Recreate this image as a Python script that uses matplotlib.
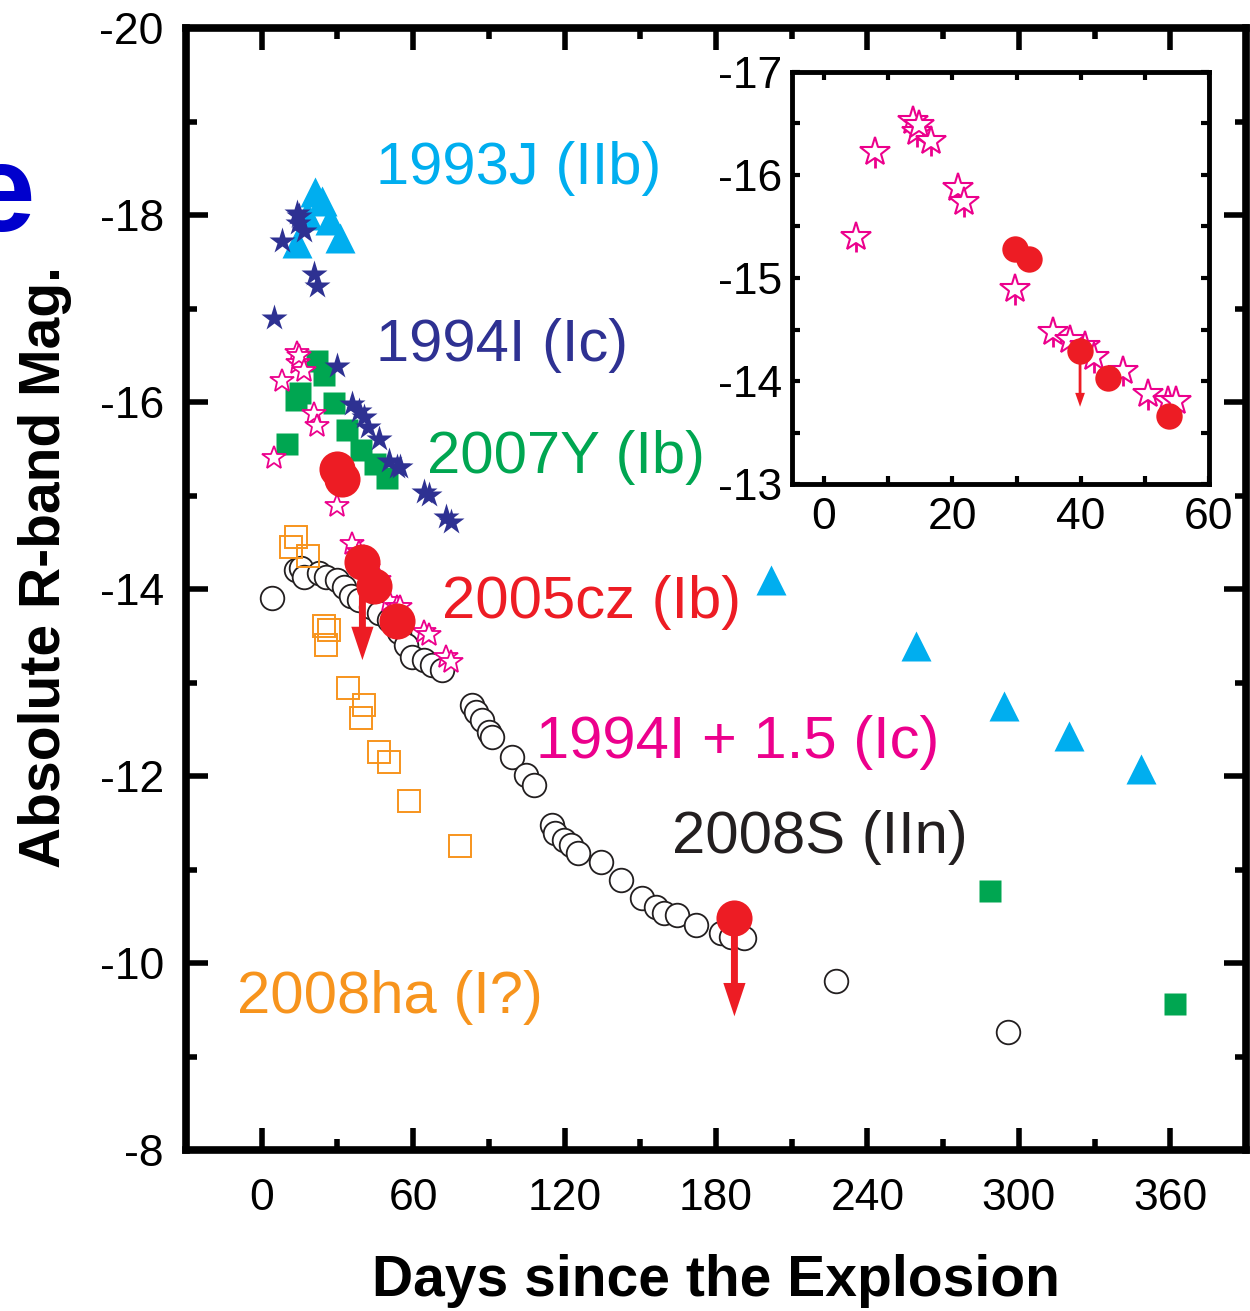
import numpy as np
import matplotlib.pyplot as plt
from matplotlib.ticker import MultipleLocator

plt.rcParams['font.family'] = ['Liberation Sans', 'DejaVu Sans']
plt.rcParams['axes.unicode_minus'] = False

# light curves: days since explosion / absolute R-band magnitude
days_93J = [14, 18, 21, 24, 27, 31, 201.6, 259.4, 294.3, 320.0, 348.5]
mag_93J = [-17.7, -18.0, -18.25, -18.15, -17.95, -17.75, -14.10, -13.39, -12.75, -12.43, -12.07]

days_94I = [5.0, 7.9, 13.9, 14.5, 14.8, 16.6, 20.8, 21.8, 29.7, 35.7, 38.4, 40.7,
            42.0, 46.6, 50.5, 53.6, 54.9, 64.2, 66.1, 72.9, 74.9]
mag_94I = [-16.90, -17.72, -18.02, -17.92, -17.99, -17.83, -17.37, -17.24, -16.39, -15.98,
           -15.90, -15.84, -15.73, -15.60, -15.37, -15.31, -15.31, -15.04, -15.01, -14.77, -14.72]
OFFSET_94I = 1.5

days_07Y = [9.9, 13.5, 15.0, 21.8, 24.6, 28.5, 33.7, 39.2, 44.8, 49.5, 288.7, 362.0]
mag_07Y = [-15.55, -16.02, -16.10, -16.44, -16.29, -15.99, -15.70, -15.49, -15.34, -15.19,
           -10.77, -9.56]

days_05cz = [29.8, 31.9, 39.9, 44.3, 53.8, 187.3]
mag_05cz = [-15.28, -15.18, -14.29, -14.03, -13.66, -10.48]
limit_05cz = [False, False, True, False, False, True]

days_08S = [4.0, 13.5, 15.4, 16.6, 22.6, 25.3, 29.7, 32.5, 35.2, 38.4, 43.2, 46.3, 50.3,
            54.3, 57.0, 59.4, 64.2, 67.3, 71.3, 83.2, 85.1, 87.1, 89.9, 91.1, 99.0, 104.9,
            107.7, 114.9, 116.4, 119.6, 122.4, 125.5, 134.3, 142.2, 150.5, 156.4, 159.2,
            164.4, 171.9, 181.8, 186.1, 190.9, 227.7, 295.8]
mag_08S = [-13.90, -14.20, -14.22, -14.13, -14.17, -14.13, -14.10, -14.02, -13.93, -13.88,
           -13.81, -13.74, -13.67, -13.54, -13.40, -13.27, -13.24, -13.19, -13.13, -12.76,
           -12.68, -12.60, -12.47, -12.42, -12.20, -12.01, -11.90, -11.48, -11.39, -11.32,
           -11.26, -11.18, -11.08, -10.89, -10.70, -10.60, -10.53, -10.51, -10.41, -10.32,
           -10.28, -10.27, -9.81, -9.26]

days_08ha = [11.5, 13.5, 18.2, 24.6, 26.5, 25.3, 34.1, 40.4, 39.2, 46.3, 50.3, 58.2, 78.4]
mag_08ha = [-14.45, -14.56, -14.35, -13.60, -13.56, -13.40, -12.94, -12.76, -12.62, -12.26,
            -12.15, -11.73, -11.25]

STAR_ERR = 0.15
LIMIT_LEN_MAIN = 1.05
LIMIT_LEN_INSET = 0.54

CYAN = '#00AEEF'
NAVY = '#2E3192'
GREEN = '#00A651'
RED = '#ED1C24'
MAGENTA = '#EC008C'
BLACK = '#231F20'
ORANGE = '#F7941D'

mag_94I_shift = np.array(mag_94I) + OFFSET_94I


def upper_limits(ax, days, mags, flags, length, width, headwidth, headlength):
    for d, m, f in zip(days, mags, flags):
        if f:
            ax.annotate('', xy=(d, m + length), xytext=(d, m),
                        arrowprops=dict(facecolor=RED, edgecolor=RED, width=width,
                                        headwidth=headwidth, headlength=headlength,
                                        shrink=0, linewidth=0), zorder=8)


fig = plt.figure(figsize=(12.5, 13.11), dpi=100)
ax = fig.add_axes([0.1488, 0.1228, 0.848, 0.8558])

ax.plot(days_08S, mag_08S, 'o', ms=17, mfc='white', mec=BLACK, mew=1.3, zorder=3)
ax.plot(days_08ha, mag_08ha, 's', ms=16, mfc='none', mec=ORANGE, mew=1.4, zorder=4)
ax.plot(days_07Y, mag_07Y, 's', ms=16, color=GREEN, mec='none', zorder=5)
ax.plot(days_93J, mag_93J, '^', ms=21, color=CYAN, mec='none', zorder=5)
ax.plot(days_94I, mag_94I, '*', ms=20, color=NAVY, mec='none', zorder=6)
ax.plot(days_94I, mag_94I_shift, '*', ms=18, mfc='white', mec=MAGENTA, mew=1.3, zorder=7)
upper_limits(ax, days_05cz, mag_05cz, limit_05cz, LIMIT_LEN_MAIN, 5, 16, 24)
ax.plot(days_05cz, mag_05cz, 'o', ms=26, color=RED, mec='none', zorder=9)

labels = [('1993J (IIb)', 45.1, -18.50, CYAN),
          ('1994I (Ic)', 45.1, -16.61, NAVY),
          ('2007Y (Ib)', 65.3, -15.41, GREEN),
          ('2005cz (Ib)', 71.3, -13.86, RED),
          ('1994I + 1.5 (Ic)', 108.5, -12.36, MAGENTA),
          ('2008S (IIn)', 162.4, -11.34, BLACK),
          ('2008ha (I?)', -9.9, -9.63, ORANGE)]
for txt, x, y, c in labels:
    ax.text(x, y, txt, color=c, fontsize=43, ha='left', va='center', zorder=10)

ax.set_xlim(-30, 390)
ax.set_ylim(-8, -20)
ax.xaxis.set_major_locator(MultipleLocator(60))
ax.xaxis.set_minor_locator(MultipleLocator(30))
ax.yaxis.set_major_locator(MultipleLocator(2))
ax.yaxis.set_minor_locator(MultipleLocator(1))
ax.set_xticks(range(0, 361, 60))
ax.tick_params(which='both', direction='in', top=True, right=True, width=4, labelsize=32)
ax.tick_params(which='major', length=16)
ax.tick_params(which='minor', length=8)
ax.tick_params(axis='x', pad=20)
ax.tick_params(axis='y', pad=16)
for sp in ax.spines.values():
    sp.set_linewidth(5.5)

ax.set_xlabel('Days since the Explosion', fontsize=41, fontweight='bold')
ax.set_ylabel('Absolute R-band Mag.', fontsize=41, fontweight='bold')
ax.xaxis.set_label_coords(0.5, -0.093)
ax.yaxis.set_label_coords(-0.108, 0.52)

# zoom on the first two months
ins = fig.add_axes([0.6336, 0.6308, 0.3336, 0.3143])
ins.errorbar(days_94I, mag_94I_shift,
             yerr=[np.zeros(len(days_94I)), np.full(len(days_94I), STAR_ERR)],
             fmt='none', ecolor=MAGENTA, elinewidth=2, capsize=0, zorder=2)
ins.plot(days_94I, mag_94I_shift, '*', ms=22, mfc='white', mec=MAGENTA, mew=1.5, zorder=3)
upper_limits(ins, days_05cz, mag_05cz, limit_05cz, LIMIT_LEN_INSET, 2, 7, 10)
ins.plot(days_05cz, mag_05cz, 'o', ms=19, color=RED, mec='none', zorder=9)

ins.set_xlim(-5, 60)
ins.set_ylim(-13, -17)
ins.set_xticks([0, 20, 40, 60])
ins.xaxis.set_minor_locator(MultipleLocator(10))
ins.set_yticks([-17, -16, -15, -14, -13])
ins.yaxis.set_minor_locator(MultipleLocator(0.5))
ins.tick_params(which='both', direction='in', top=True, right=True, width=3,
                length=6, labelsize=32)
ins.tick_params(axis='x', pad=9)
ins.tick_params(axis='y', pad=7)
for sp in ins.spines.values():
    sp.set_linewidth(3.5)

fig.text(0.0, 0.848, 'e', color='#0000CD', fontsize=90, fontweight='bold',
         ha='center', va='center')

fig.savefig('out.png', dpi=100)
